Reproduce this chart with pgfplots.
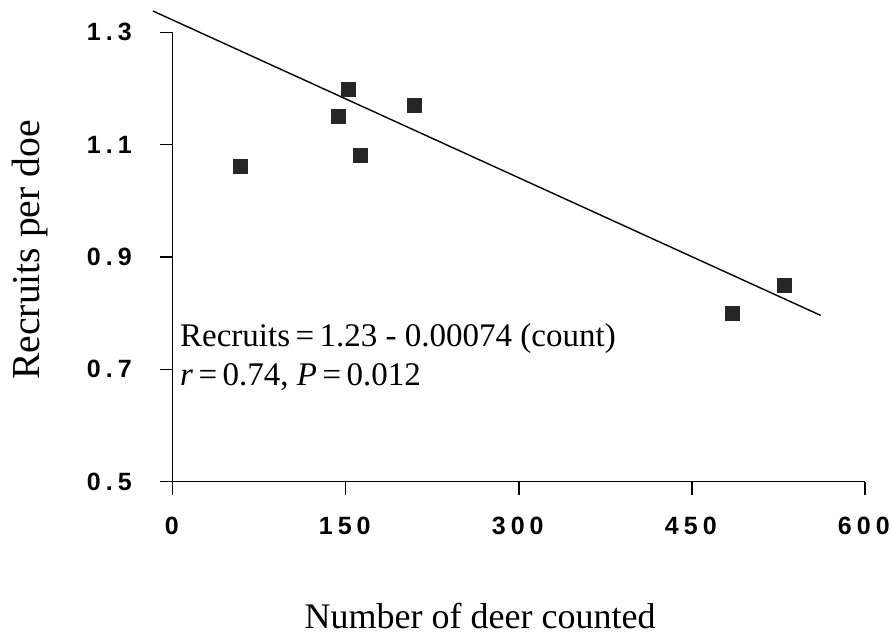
\documentclass[border=0pt]{standalone}
\usepackage{pgfplots}
\pgfplotsset{compat=1.18}
\usepackage{fontspec}
\setmainfont{Liberation Serif}
\newfontfamily\tickfont[LetterSpace=20]{Liberation Sans Bold}
\begin{document}
\begin{tikzpicture}
\begin{axis}[
  scale only axis,
  width=346pt, height=224.7pt,
  xmin=0, xmax=600, ymin=0.5, ymax=1.3,
  axis lines=left,
  axis line style={-, line width=0.7pt},
  x axis line style={shorten <=-6.5pt},
  y axis line style={shorten <=-5.5pt},
  xtick={0,150,300,450,600},
  ytick={0.5,0.7,0.9,1.1,1.3},
  yticklabels={0.5,0.7,0.9,1.1,1.3},
  xticklabels={0,150,300,450,600},
  tick align=outside,
  major tick length=6.5pt,
  tick style={line width=0.7pt, black},
  ticklabel style={font=\tickfont\fontsize{12.5}{14}\selectfont},
  xticklabel style={yshift=-7.5pt, xshift=-0.5pt},
  yticklabel style={xshift=-10.5pt},
  xlabel={Number of deer counted},
  ylabel={Recruits per doe},
  xlabel style={font=\fontsize{18}{20}\selectfont, at={(axis description cs:0.444,-0.298)}, anchor=center},
  ylabel style={font=\fontsize{19.8}{22}\selectfont, at={(axis description cs:-0.2064,0.5156)}, anchor=center},
  clip=false,
]
\addplot[only marks, mark=square*, mark size=3.5pt, mark options={fill=black!85, draw=black!85}]
  coordinates {(59,1.061)(143.6,1.150)(152.3,1.199)(162.4,1.080)(209.2,1.169)(485.5,0.799)(530,0.849)};
\addplot[no marks, line width=0.7pt, black] coordinates {(-17.3,1.338)(561.8,0.796)};
\node[anchor=base west, font=\fontsize{16.5}{18}\selectfont, inner sep=0pt] at (axis cs:6,0.740) {Recruits\,=\,1.23 - 0.00074 (count)};
\node[anchor=base west, font=\fontsize{16.5}{18}\selectfont, inner sep=0pt] at (axis cs:6,0.672) {\textit{r}\,=\,0.74, \textit{P}\,=\,0.012};
\coordinate (bbsw) at (rel axis cs:-0.2497,-0.3433);
\coordinate (bbne) at (rel axis cs:1.0393,1.0719);
\end{axis}
\pgfresetboundingbox
\path[use as bounding box] (bbsw) rectangle (bbne);
\end{tikzpicture}
\end{document}
